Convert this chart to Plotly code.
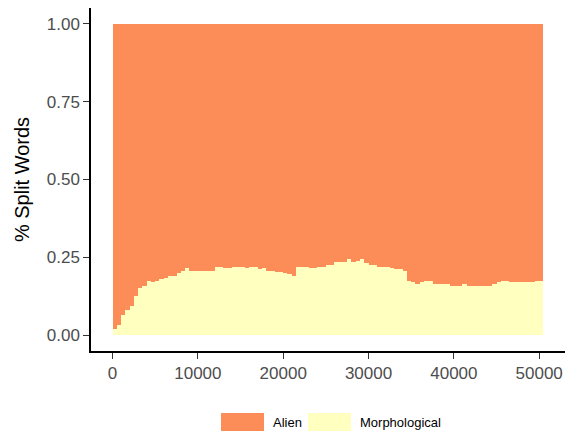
import plotly.graph_objects as go

# ---- data ----
bin_width = 500
bin_start = list(range(0, 50500, 500))  # 101 bins: 0 .. 50000
morphological = [
    0.019, 0.032, 0.067, 0.080, 0.093, 0.125, 0.151, 0.160, 0.173, 0.170,
    0.173, 0.180, 0.183, 0.189, 0.192, 0.199, 0.208, 0.215, 0.208, 0.208,
    0.205, 0.205, 0.205, 0.208, 0.218, 0.218, 0.215, 0.215, 0.218, 0.218,
    0.218, 0.215, 0.218, 0.221, 0.212, 0.215, 0.208, 0.205, 0.202, 0.202,
    0.199, 0.196, 0.192, 0.221, 0.221, 0.218, 0.215, 0.215, 0.221, 0.219,
    0.225, 0.225, 0.234, 0.237, 0.234, 0.244, 0.237, 0.240, 0.244, 0.231,
    0.225, 0.225, 0.221, 0.221, 0.218, 0.215, 0.212, 0.212, 0.208, 0.173,
    0.170, 0.164, 0.170, 0.173, 0.173, 0.164, 0.164, 0.164, 0.164, 0.160,
    0.157, 0.157, 0.164, 0.160, 0.157, 0.157, 0.160, 0.157, 0.157, 0.164,
    0.170, 0.173, 0.173, 0.170, 0.170, 0.170, 0.170, 0.170, 0.170, 0.173,
    0.173,
]
alien = [round(1 - m, 3) for m in morphological]
x_ticks = [0, 10000, 20000, 30000, 40000, 50000]
y_ticks = [0.0, 0.25, 0.5, 0.75, 1.0]
series_names = ["Alien", "Morphological"]
colors = {"Alien": "#FC8D59", "Morphological": "#FFFFBF"}

# ---- layout geometry ----
W, H = 571, 432
L, R, T, B = 91, 6, 8, 81
PW, PH = W - L - R, H - T - B


def xp(px):
    return (px - L) / PW


def yp(py):
    return (H - B - py) / PH


x_center = [s + bin_width / 2 for s in bin_start]

fig = go.Figure()
fig.add_trace(go.Bar(x=x_center, y=morphological, width=bin_width,
                     name="Morphological", marker_color=colors["Morphological"],
                     marker_line_width=0, showlegend=False))
fig.add_trace(go.Bar(x=x_center, y=alien, width=bin_width,
                     name="Alien", marker_color=colors["Alien"],
                     marker_line_width=0, showlegend=False))

xmin, xmax = bin_start[0], bin_start[-1] + bin_width
xpad = (xmax - xmin) * 0.05

fig.update_layout(
    width=W, height=H,
    margin=dict(l=L, r=R, t=T, b=B, pad=0),
    barmode="stack", bargap=0,
    plot_bgcolor="white", paper_bgcolor="white",
    font=dict(family="Liberation Sans, Arial, sans-serif", color="black"),
    showlegend=False,
)
fig.update_xaxes(
    range=[xmin - xpad, xmax + xpad], tickvals=x_ticks, tickformat="d",
    showline=True, linecolor="black", linewidth=1.5, showgrid=False, zeroline=False,
    ticks="outside", ticklen=6, tickwidth=1.3, tickcolor="#333333",
    tickfont=dict(size=17, color="#4D4D4D"),
)
fig.update_yaxes(
    range=[-0.05, 1.05], tickvals=y_ticks, tickformat=".2f",
    showline=True, linecolor="black", linewidth=1.5, showgrid=False, zeroline=False,
    ticks="outside", ticklen=6, tickwidth=1.3, tickcolor="#333333",
    tickfont=dict(size=17, color="#4D4D4D"),
    title=dict(text="% Split Words", font=dict(size=20, color="black"), standoff=12),
)

# ---- custom bottom legend (ggplot style keys) ----
legend_items = [("Alien", 221, 264, 271), ("Morphological", 308, 351, 358)]
for name, k0, k1, tx in legend_items:
    fig.add_shape(type="rect", xref="paper", yref="paper",
                  x0=xp(k0), x1=xp(k1), y0=yp(431), y1=yp(413),
                  fillcolor=colors[name], line_width=0)
    fig.add_annotation(xref="paper", yref="paper", x=xp(tx), y=yp(422.5),
                       text=name, showarrow=False, xanchor="left", yanchor="middle",
                       font=dict(size=13, color="black"))

fig.write_html(
    "out.html",
    config={"displayModeBar": False},
    post_script="document.body.style.margin='0';document.body.style.overflow='hidden';",
)
